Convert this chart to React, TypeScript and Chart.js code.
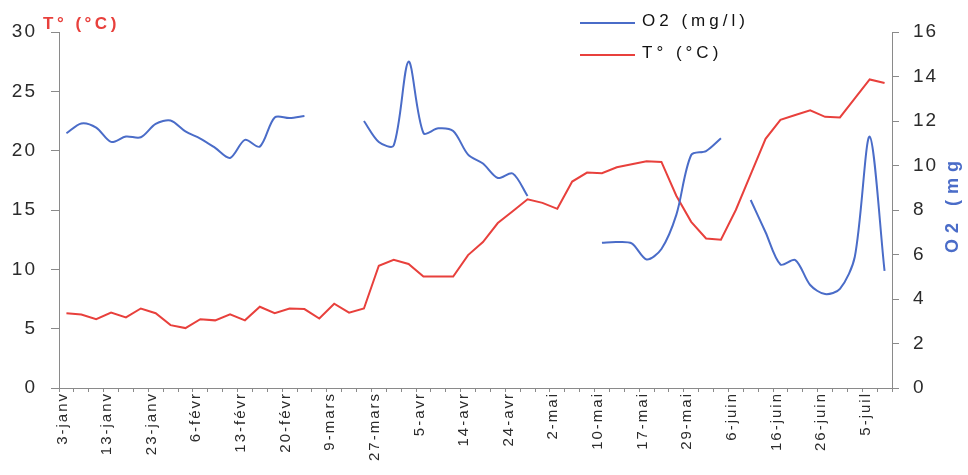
import React, { useEffect, useRef } from 'react';
import { Chart, registerables } from 'chart.js';

Chart.register(...registerables);

// Sampling dates (one point per sample, every third one is labelled)
const dates = [
  '3-janv', '6-janv', '10-janv', '13-janv', '16-janv', '20-janv', '23-janv', '27-janv', '30-janv',
  '6-févr', '9-févr', '11-févr', '13-févr', '16-févr', '18-févr', '20-févr', '23-févr', '2-mars',
  '9-mars', '16-mars', '23-mars', '27-mars', '30-mars', '2-avr', '5-avr', '8-avr', '11-avr',
  '14-avr', '17-avr', '21-avr', '24-avr', '26-avr', '29-avr', '2-mai', '5-mai', '7-mai',
  '10-mai', '12-mai', '14-mai', '17-mai', '21-mai', '25-mai', '29-mai', '31-mai', '3-juin',
  '6-juin', '9-juin', '13-juin', '16-juin', '19-juin', '23-juin', '26-juin', '29-juin', '2-juil',
  '5-juil', '8-juil',
];

// Water temperature, °C (left axis)
const temperature = [
  6.3, 6.2, 5.8, 6.35, 5.95, 6.7, 6.3, 5.3, 5.05, 5.8,
  5.7, 6.2, 5.7, 6.85, 6.3, 6.7, 6.65, 5.85, 7.1, 6.35,
  6.7, 10.3, 10.8, 10.45, 9.4, 9.4, 9.4, 11.2, 12.3, 13.9,
  14.9, 15.9, 15.6, 15.1, 17.4, 18.15, 18.1, 18.6, 18.85, 19.1,
  19.05, 16.2, 14.0, 12.6, 12.5, 15.0, 18.0, 21.0, 22.6, 23.0,
  23.4, 22.85, 22.8, 24.4, 26.0, 25.7,
];

// Dissolved oxygen, mg/l (right axis); null = no measurement
const oxygen = [
  11.45, 11.89, 11.7, 11.06, 11.3, 11.27, 11.87, 12.02, 11.53, 11.21,
  10.79, 10.34, 11.15, 10.85, 12.16, 12.13, 12.22, null, null, null,
  12.0, 11.06, 10.9, 14.67, 11.46, 11.67, 11.55, 10.49, 10.09, 9.44,
  9.64, 8.63, null, null, null, null, 6.53, 6.56, 6.5, 5.78,
  6.25, 7.78, 10.47, 10.65, 11.22, null, 8.45, 7.0, 5.55, 5.75,
  4.63, 4.22, 4.45, 5.9, 11.3, 5.26,
];

const temperatureTicks = [0, 5, 10, 15, 20, 25, 30];
const oxygenTicks = [0, 2, 4, 6, 8, 10, 12, 14, 16];
const labelEvery = 3;

const RED = '#e8403c';
const BLUE = '#4a6cc8';
const AXIS = '#8a8a8a';
const INK = '#2b2b2b';
const FONT = '"Liberation Sans", Arial, sans-serif';

// Wide character spacing for axis text, plus the titles and the legend drawn on top
const textOverlay = {
  id: 'textOverlay',
  beforeLayout(chart: any) {
    chart.ctx.letterSpacing = '2px';
  },
  beforeDraw(chart: any) {
    chart.ctx.letterSpacing = '2px';
  },
  afterDraw(chart: any) {
    const { ctx, chartArea } = chart;
    ctx.save();
    ctx.textBaseline = 'middle';
    ctx.textAlign = 'left';

    // left axis title
    ctx.letterSpacing = '3.5px';
    ctx.font = `bold 17px ${FONT}`;
    ctx.fillStyle = RED;
    ctx.fillText('T° (°C)', chartArea.left - 16, 24);

    // legend
    const lineY = [23, 55];
    ctx.font = `17px ${FONT}`;
    ctx.letterSpacing = '4px';
    chart.data.datasets.forEach((ds: any, i: number) => {
      ctx.strokeStyle = ds.borderColor;
      ctx.lineWidth = 2;
      ctx.beginPath();
      ctx.moveTo(580, lineY[i]);
      ctx.lineTo(635, lineY[i]);
      ctx.stroke();
      ctx.fillStyle = '#111';
      ctx.fillText(ds.label, 642, lineY[i] - 1.5);
    });

    // right axis title, reading upwards
    ctx.translate(953, 204);
    ctx.rotate(-Math.PI / 2);
    ctx.textAlign = 'center';
    ctx.fillStyle = BLUE;
    ctx.font = `bold 18px ${FONT}`;
    ctx.letterSpacing = '6px';
    ctx.fillText('O2 (mg', 0, 0);
    ctx.restore();
  },
};

export default function App() {
  const canvasRef = useRef<HTMLCanvasElement | null>(null);

  useEffect(() => {
    const canvas = canvasRef.current;
    if (!canvas) return;
    const chart = new Chart(canvas, {
      type: 'line',
      data: {
        labels: dates,
        datasets: [
          {
            label: 'O2 (mg/l)',
            data: oxygen,
            yAxisID: 'y2',
            borderColor: BLUE,
            backgroundColor: BLUE,
            borderWidth: 2,
            pointRadius: 0,
            tension: 0.3,
            spanGaps: false,
          },
          {
            label: 'T° (°C)',
            data: temperature,
            yAxisID: 'y',
            borderColor: RED,
            backgroundColor: RED,
            borderWidth: 2,
            pointRadius: 0,
            tension: 0,
          },
        ],
      },
      options: {
        responsive: false,
        animation: false,
        events: [],
        layout: { padding: { top: 32, left: 0, right: 0, bottom: 0 } },
        plugins: {
          legend: { display: false },
          tooltip: { enabled: false },
        },
        scales: {
          x: {
            type: 'category',
            offset: true,
            grid: { offset: true, drawOnChartArea: false, drawTicks: true, tickLength: 4, color: AXIS },
            border: { color: AXIS, width: 1 },
            ticks: {
              autoSkip: false,
              minRotation: 90,
              maxRotation: 90,
              padding: 0,
              labelOffset: -4,
              color: INK,
              font: { family: FONT, size: 15 },
              callback: (_v: any, i: number) => (i % labelEvery === 0 ? dates[i] : ''),
            },
            afterFit: (s: any) => {
              s.height = 87;
            },
          },
          y: {
            position: 'left',
            min: 0,
            max: 30,
            afterBuildTicks: (s: any) => {
              s.ticks = temperatureTicks.map((value) => ({ value }));
            },
            grid: { drawOnChartArea: false, tickLength: 8, color: AXIS },
            border: { color: AXIS, width: 1 },
            ticks: { padding: 14, color: INK, font: { family: FONT, size: 19 } },
            afterFit: (s: any) => {
              s.width = 59;
            },
          },
          y2: {
            position: 'right',
            min: 0,
            max: 16,
            afterBuildTicks: (s: any) => {
              s.ticks = oxygenTicks.map((value) => ({ value }));
            },
            grid: { drawOnChartArea: false, tickLength: 7, color: AXIS },
            border: { color: AXIS, width: 1 },
            ticks: { padding: 14, color: INK, font: { family: FONT, size: 19 } },
            afterFit: (s: any) => {
              s.width = 76;
            },
          },
        },
      },
      plugins: [textOverlay],
    } as any);
    return () => chart.destroy();
  }, []);

  return (
    <div style={{ position: 'fixed', left: 0, top: 0, width: 968, height: 475, background: '#fff' }}>
      <canvas ref={canvasRef} width={968} height={475} style={{ display: 'block' }} />
    </div>
  );
}
